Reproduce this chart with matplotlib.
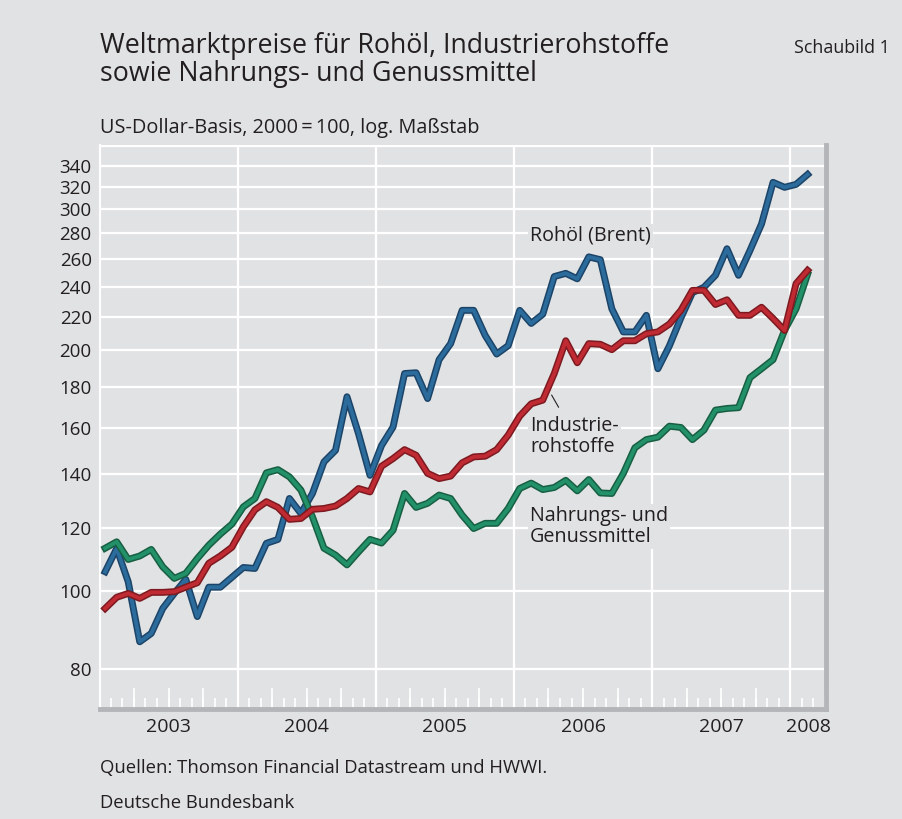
import matplotlib.pyplot as plt
import matplotlib.patheffects as pe
import matplotlib.transforms as mtransforms
from matplotlib.ticker import NullLocator
import numpy as np

# monthly values, Jan 2003 - Feb 2008, US-Dollar basis, 2000 = 100
brent = [105.7, 113.0, 102.7, 86.4, 88.5, 95.1, 99.3, 103.4, 92.9, 101.1, 101.1, 104.0,
         107.0, 106.7, 114.7, 116.0, 130.5, 125.0, 132.4, 145.0, 149.9, 174.9, 157.3, 139.5,
         152.0, 160.3, 187.0, 187.4, 174.0, 194.6, 203.8, 224.3, 224.3, 208.7, 197.8, 202.6,
         224.3, 216.0, 221.8, 247.2, 249.5, 245.6, 261.6, 259.5, 225.3, 210.8, 210.8, 221.1,
         189.6, 202.5, 219.5, 236.0, 239.7, 248.1, 267.8, 248.1, 266.5, 287.6, 324.2, 319.6,
         322.3, 331.6]
industrie = [95.1, 98.2, 99.3, 97.9, 99.6, 99.6, 99.8, 101.1, 102.4, 108.3, 110.6, 113.4,
             120.3, 126.3, 129.3, 127.2, 122.9, 123.2, 126.5, 126.8, 127.7, 130.5, 134.3, 133.0,
             143.2, 146.4, 150.2, 147.8, 140.3, 138.2, 139.2, 144.6, 147.1, 147.4, 150.2, 156.6,
             165.4, 171.4, 173.2, 187.0, 205.5, 192.9, 203.8, 203.4, 200.3, 205.5, 205.5, 209.7,
             210.8, 215.6, 224.3, 237.6, 237.6, 228.1, 231.2, 221.1, 221.1, 226.3, 219.1, 211.7,
             242.2, 251.6]
nahrung = [113.1, 115.2, 109.5, 110.6, 112.7, 107.2, 103.7, 105.2, 109.8, 114.1, 117.8, 121.2,
           127.4, 130.5, 140.5, 141.8, 138.9, 133.7, 123.8, 113.1, 110.9, 107.8, 111.9, 116.0,
           114.8, 119.1, 132.4, 127.2, 128.7, 131.8, 130.5, 124.4, 119.7, 121.5, 121.5, 126.8,
           134.3, 136.4, 133.9, 134.7, 137.5, 133.4, 137.8, 132.6, 132.4, 140.3, 151.0, 154.6,
           155.7, 160.7, 160.1, 154.6, 158.9, 168.3, 169.1, 169.5, 184.8, 189.6, 194.6, 211.7,
           225.3, 248.8]
years = ['2003', '2004', '2005', '2006', '2007', '2008']
y_ticks = [80, 100, 120, 140, 160, 180, 200, 220, 240, 260, 280, 300, 320, 340, 360]

bg = '#e1e2e4'
txt = '#231f20'
plt.rcParams['font.family'] = ['Open Sans', 'DejaVu Sans']

fig = plt.figure(figsize=(9.02, 8.19), dpi=100, facecolor=bg)
ax = fig.add_axes([100 / 902, 110 / 819, 726 / 902, 564 / 819], facecolor=bg)

x = np.arange(len(brent))

def fx(c_dark):
    return [pe.Stroke(linewidth=5.0, foreground=c_dark), pe.Normal()]

ax.plot(x, brent, color='#2c6c9c', lw=2.8, path_effects=fx('#1b4468'), zorder=3)
ax.plot(x, nahrung, color='#22916a', lw=2.8, path_effects=fx('#175f42'), zorder=4)
ax.plot(x, industrie, color='#bf2a33', lw=2.8, path_effects=fx('#7d1a20'), zorder=5)

ax.set_yscale('log')
ax.set_ylim(71.2, 361)
ax.set_xlim(-0.45, 62.6)

ax.yaxis.set_major_locator(plt.FixedLocator(y_ticks))
ax.yaxis.set_minor_locator(NullLocator())
ax.set_yticklabels([str(v) if v != 360 else '' for v in y_ticks])
ax.tick_params(axis='y', length=0, pad=6, labelsize=13.5, labelcolor=txt)

year_bounds = np.arange(11.5, len(brent), 12)
ax.set_xticks(year_bounds)
ax.set_xticklabels([])
ax.tick_params(axis='x', which='major', length=0)
month_bounds = [m for m in np.arange(0.5, 62.6, 1.0)]
ax.set_xticks(month_bounds, minor=True)
ax.tick_params(axis='x', which='minor', direction='in', length=8, width=1.2, color='white')

quarter_bounds = [m for m in np.arange(2.5, 62.6, 3.0)]
sec = ax.secondary_xaxis('bottom')
sec.set_xticks(quarter_bounds)
sec.set_xticklabels([])
sec.tick_params(direction='in', length=15, width=1.2, color='white')
sec.spines['bottom'].set_visible(False)

ax.grid(True, which='major', color='white', lw=1.6, zorder=1)
ax.set_axisbelow(True)

ax.spines['top'].set_visible(False)
ax.spines['left'].set_color('white')
ax.spines['left'].set_linewidth(1.5)
for s in ['bottom', 'right']:
    ax.spines[s].set_color('#b3b5b8')
    ax.spines[s].set_linewidth(3.5)

# year labels centred in each year
trans = mtransforms.blended_transform_factory(ax.transData, ax.transAxes)
centers = [5.5 + 12 * i for i in range(5)] + [(59.5 + 62.6) / 2]
for c, yl in zip(centers, years):
    ax.text(c, -0.032, yl, transform=trans, ha='center', va='center', fontsize=14, color=txt)

box = dict(facecolor=bg, edgecolor='none', pad=1.5)
ax.text(36.9, 278, 'Rohöl (Brent)', fontsize=14.2, color=txt, va='center', ha='left', bbox=box, zorder=6)
ax.text(36.9, 156, 'Industrie-\nrohstoffe', fontsize=14.2, color=txt, va='center', ha='left',
        linespacing=1.05, bbox=box, zorder=6)
ax.text(36.9, 120.5, 'Nahrungs- und\nGenussmittel', fontsize=14.2, color=txt, va='center', ha='left',
        linespacing=1.05, bbox=box, zorder=6)
ax.annotate('', xy=(38.65, 177), xytext=(39.5, 168.5),
            arrowprops=dict(arrowstyle='-', color=txt, lw=0.8), zorder=6)

fig.text(100 / 902, 1 - 46 / 819, 'Weltmarktpreise für Rohöl, Industrierohstoffe',
         fontsize=19.3, color=txt, va='center', ha='left')
fig.text(100 / 902, 1 - 74 / 819, 'sowie Nahrungs- und Genussmittel',
         fontsize=19.3, color=txt, va='center', ha='left')
fig.text(890 / 902, 1 - 48 / 819, 'Schaubild 1', fontsize=12.9, color=txt, va='center', ha='right')
fig.text(100 / 902, 1 - 128 / 819, 'US-Dollar-Basis, 2000\u2009=\u2009100, log. Maßstab',
         fontsize=14.3, color=txt, va='center', ha='left')
fig.text(100 / 902, 1 - 768 / 819, 'Quellen: Thomson Financial Datastream und HWWI.',
         fontsize=13.3, color=txt, va='center', ha='left')
fig.text(100 / 902, 1 - 803 / 819, 'Deutsche Bundesbank', fontsize=13.3, color=txt, va='center', ha='left')

fig.savefig('out.png', dpi=100, facecolor=bg)
